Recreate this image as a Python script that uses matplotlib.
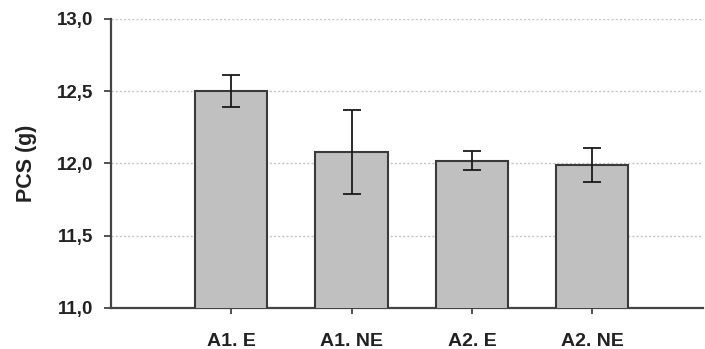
import numpy as np
import matplotlib
matplotlib.use("Agg")
import matplotlib.pyplot as plt

# Data
categories = ["A1. E", "A1. NE", "A2. E", "A2. NE"]
pcs_means = [12.50, 12.08, 12.02, 11.99]
pcs_errors = [0.11, 0.29, 0.065, 0.115]
y_ticks = [11.0, 11.5, 12.0, 12.5, 13.0]
y_ticklabels = ["11,0", "11,5", "12,0", "12,5", "13,0"]

plt.rcParams['font.family'] = ['Liberation Sans', 'DejaVu Sans']

fig = plt.figure(figsize=(7.05, 3.49), dpi=100)
ax = fig.add_axes([0.1574, 0.1175, 0.8396, 0.8281])

x = np.arange(len(categories))
ax.bar(x, pcs_means, width=0.6, bottom=0, color="#c0c0c0",
       edgecolor="#3a3a3a", linewidth=1.5, zorder=3)
ax.errorbar(x, pcs_means, yerr=pcs_errors, fmt="none", ecolor="#1a1a1a",
            elinewidth=1.3, capsize=6.5, capthick=1.3, zorder=4)

ax.set_ylim(11.0, 13.0)
ax.set_xlim(-1.0, 3.92)
ax.set_yticks(y_ticks)
ax.set_yticklabels(y_ticklabels, fontsize=13.5, fontweight="bold", color="#222222")
ax.set_xticks(x)
ax.set_xticklabels(categories, fontsize=14, fontweight="bold", color="#222222")
ax.set_ylabel("PCS (g)", fontsize=15.5, fontweight="bold", color="#222222", labelpad=14)

# dotted horizontal grid
for yv in y_ticks[1:]:
    ax.axhline(yv, color="#c4c4c4", linestyle=(0, (1.5, 1.5)), linewidth=1.0, zorder=1)

for side in ["top", "right"]:
    ax.spines[side].set_visible(False)
for side in ["left", "bottom"]:
    ax.spines[side].set_color("#444444")
    ax.spines[side].set_linewidth(1.6)

ax.tick_params(axis="y", direction="out", length=5, width=1.3, color="#444444", pad=8)
ax.tick_params(axis="x", direction="out", length=4, width=1.3, color="#444444", pad=14)

fig.savefig("out.png", dpi=100)
